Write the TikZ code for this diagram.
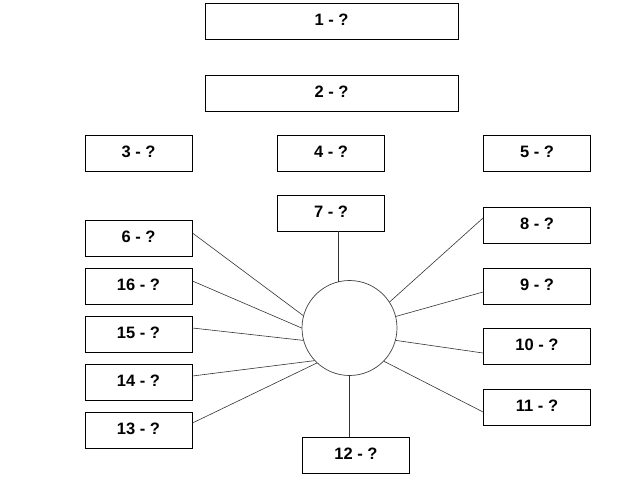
\documentclass[tikz,border=0pt]{standalone}
\usepackage{fontspec}
\setmainfont{Liberation Sans}
\usetikzlibrary{calc}
\tikzset{
  box/.style={draw=black, line width=0.9pt, fill=white, minimum height=36pt, inner sep=0pt, text depth=3.5pt, font=\fontsize{16.5}{19}\selectfont\bfseries},
  wide/.style={box, minimum width=253pt},
  small/.style={box, minimum width=107pt},
  link/.style={draw=black!80, line width=0.6pt},
  hub/.style={draw=black!75, line width=0.7pt, circle, minimum size=95pt, inner sep=0pt}
}
\begin{document}
\begin{tikzpicture}[x=1pt,y=-1pt]
\useasboundingbox (0,0) rectangle (640,477);
\node[wide] (b1) at (331.5,21) {1 - ?};
\node[wide] (b2) at (331.5,93) {2 - ?};
\node[small] (b3) at (138.5,153) {3 - ?};
\node[small] (b4) at (331,153) {4 - ?};
\node[small] (b5) at (537,153) {5 - ?};
\node[small] (b7) at (331,213) {7 - ?};
\node[small] (b6) at (138.5,238) {6 - ?};
\node[small] (b16) at (138.5,286) {16 - ?};
\node[small] (b15) at (138.5,334.5) {15 - ?};
\node[small] (b14) at (138.5,382.5) {14 - ?};
\node[small] (b13) at (138.5,430.5) {13 - ?};
\node[small] (b8) at (537,225.5) {8 - ?};
\node[small] (b9) at (537,286.5) {9 - ?};
\node[small] (b10) at (537,346.5) {10 - ?};
\node[small] (b11) at (537,407.5) {11 - ?};
\node[small] (b12) at (356,455) {12 - ?};
\node[hub] (c) at (349.5,328) {};
% connectors
\draw[link] (c.104) -- (c.104 |- b7.south);
\draw[link] (c.south) -- (c.south |- b12.north);
\draw[link] ($(b6.east)+(0,-5)$) -- (c.165);
\draw[link] ($(b16.east)+(0,-5)$) -- (c.180);
\draw[link] ($(b15.east)+(0,-6.5)$) -- (c.195);
\draw[link] ($(b14.east)+(0,-6.5)$) -- (c.223);
\draw[link] ($(b13.east)+(0,-7.5)$) -- (c.227);
\draw[link] ($(b8.west)+(0,-7.5)$) -- (c.33);
\draw[link] ($(b9.west)+(0,5.5)$) -- (c.14);
\draw[link] ($(b10.west)+(0,6.5)$) -- (c.-15);
\draw[link] ($(b11.west)+(0,4.5)$) -- (c.-44);
\end{tikzpicture}
\end{document}
